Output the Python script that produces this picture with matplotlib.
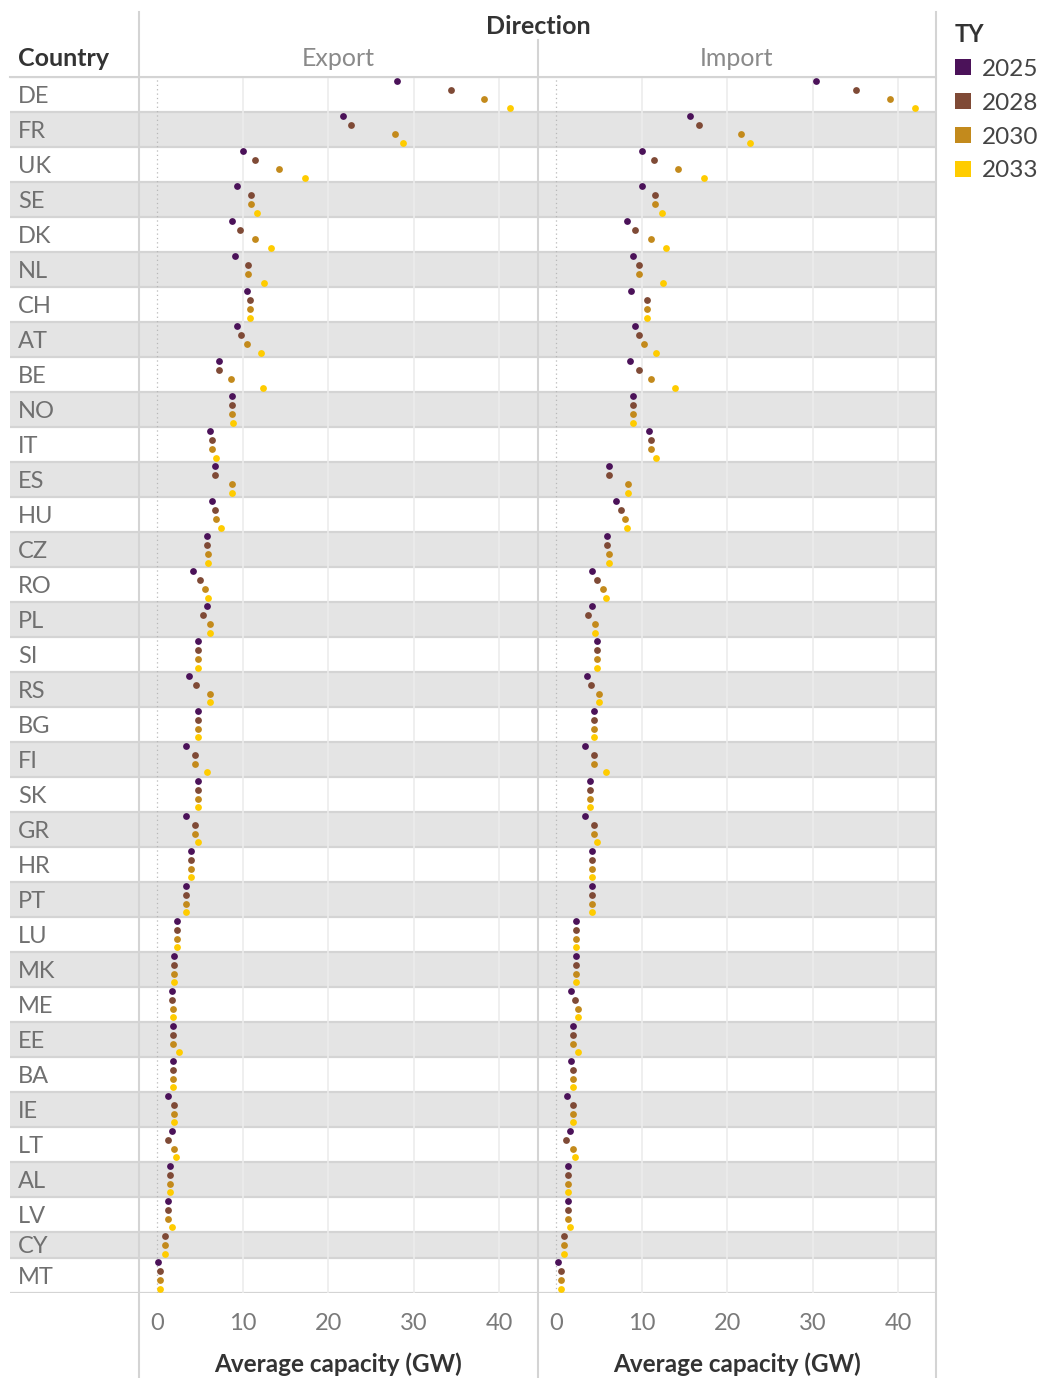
import numpy as np
import matplotlib
matplotlib.use("Agg")
import matplotlib.pyplot as plt
from matplotlib.patches import Patch
from matplotlib.lines import Line2D

plt.rcParams['font.family'] = ['Lato', 'DejaVu Sans']

nan = np.nan

# Daten
countries = ["DE", "FR", "UK", "SE", "DK", "NL", "CH", "AT", "BE", "NO", "IT", "ES",
             "HU", "CZ", "RO", "PL", "SI", "RS", "BG", "FI", "SK", "GR", "HR", "PT",
             "LU", "MK", "ME", "EE", "BA", "IE", "LT", "AL", "LV", "CY", "MT"]
years = ["2025", "2028", "2030", "2033"]
colors = ["#4b1259", "#7f4a36", "#c38a1c", "#ffcc00"]

export_2025 = [28.0, 21.7, 10.0, 9.35, 8.75, 9.1, 10.5, 9.35, 7.2, 8.75, 6.1, 6.7,
               6.4, 5.8, 4.2, 5.8, 4.7, 3.75, 4.7, 3.4, 4.8, 3.4, 3.9, 3.4,
               2.3, 2.0, 1.7, 1.85, 1.85, 1.2, 1.7, 1.5, 1.2, nan, 0.1]
export_2028 = [34.3, 22.6, 11.4, 11.0, 9.7, 10.6, 10.8, 9.8, 7.2, 8.75, 6.4, 6.7,
               6.7, 5.8, 5.0, 5.3, 4.8, 4.5, 4.7, 4.35, 4.8, 4.35, 3.9, 3.4,
               2.3, 2.0, 1.7, 1.85, 1.85, 2.0, 1.2, 1.5, 1.2, 0.9, 0.3]
export_2030 = [38.2, 27.8, 14.2, 11.0, 11.4, 10.6, 10.8, 10.5, 8.6, 8.75, 6.4, 8.75,
               6.9, 5.9, 5.6, 6.1, 4.8, 6.1, 4.7, 4.35, 4.8, 4.35, 3.9, 3.4,
               2.3, 2.0, 1.85, 1.85, 1.85, 2.0, 2.0, 1.5, 1.2, 0.9, 0.3]
export_2033 = [41.2, 28.7, 17.3, 11.7, 13.3, 12.5, 10.8, 12.1, 12.3, 8.9, 6.9, 8.75,
               7.4, 5.9, 5.9, 6.1, 4.8, 6.1, 4.7, 5.8, 4.8, 4.8, 3.9, 3.4,
               2.3, 2.0, 1.85, 2.5, 1.85, 2.0, 2.2, 1.5, 1.7, 0.9, 0.3]

import_2025 = [30.4, 15.6, 10.0, 10.0, 8.3, 9.0, 8.7, 9.2, 8.6, 9.0, 10.8, 6.2,
               7.0, 5.9, 4.2, 4.2, 4.8, 3.6, 4.4, 3.4, 3.9, 3.4, 4.2, 4.2,
               2.3, 2.3, 1.7, 1.9, 1.7, 1.25, 1.6, 1.4, 1.4, nan, 0.15]
import_2028 = [35.1, 16.7, 11.4, 11.5, 9.2, 9.7, 10.6, 9.7, 9.7, 9.0, 11.1, 6.2,
               7.5, 5.9, 4.7, 3.7, 4.8, 4.1, 4.4, 4.4, 3.9, 4.4, 4.2, 4.2,
               2.3, 2.3, 2.2, 1.9, 1.9, 2.0, 1.1, 1.4, 1.4, 0.9, 0.5]
import_2030 = [39.0, 21.6, 14.2, 11.5, 11.1, 9.7, 10.6, 10.3, 11.1, 9.0, 11.1, 8.4,
               8.0, 6.1, 5.5, 4.5, 4.8, 5.0, 4.4, 4.4, 3.9, 4.4, 4.2, 4.2,
               2.3, 2.3, 2.5, 1.9, 1.9, 2.0, 1.9, 1.4, 1.4, 0.9, 0.5]
import_2033 = [42.0, 22.6, 17.3, 12.3, 12.8, 12.5, 10.6, 11.7, 13.9, 9.0, 11.7, 8.4,
               8.3, 6.1, 5.8, 4.5, 4.8, 5.0, 4.4, 5.8, 3.9, 4.8, 4.2, 4.2,
               2.3, 2.3, 2.5, 2.5, 1.9, 2.0, 2.2, 1.4, 1.6, 0.9, 0.5]

export_vals = np.array([export_2025, export_2028, export_2030, export_2033])
import_vals = np.array([import_2025, import_2028, import_2030, import_2033])

W, H = 1043, 1378
fig = plt.figure(figsize=(W / 100, H / 100), dpi=100)


def rect(x0, y0, x1, y1):
    return [x0 / W, 1 - y1 / H, (x1 - x0) / W, (y1 - y0) / H]


# Unterzeilen: jedes vorhandene Jahr bekommt eine eigene Zeile innerhalb des Landes
present = ~(np.isnan(export_vals) & np.isnan(import_vals))
n_sub = present.sum(axis=0)
row_top = np.concatenate([[0], np.cumsum(n_sub)[:-1]])
total = n_sub.sum()

sub_pos = np.full(export_vals.shape, nan)
for j in range(len(countries)):
    k = 0
    for i in range(len(years)):
        if present[i, j]:
            sub_pos[i, j] = row_top[j] + k + 0.5
            k += 1

# Hintergrund mit Zeilenbändern
bg = fig.add_axes(rect(10, 77, 936, 1293))
bg.set_xlim(10, 936)
bg.set_ylim(total, 0)
bg.axis("off")
for j, c in enumerate(countries):
    top = row_top[j]
    if j % 2 == 1:
        bg.axhspan(top, top + n_sub[j], color="#e4e4e4", lw=0, zorder=0)
    bg.axhline(top, color="#d4d4d4", lw=1.6, zorder=1)
    bg.text(18, top + n_sub[j] / 2 + 0.2, c, ha="left", va="center", fontsize=17,
            color="#707070")
bg.axhline(total, color="#d4d4d4", lw=1.6, zorder=1)

panels = [("Export", export_vals, rect(139, 77, 537, 1293)),
          ("Import", import_vals, rect(538, 77, 936, 1293))]

for name, vals, r in panels:
    ax = fig.add_axes(r)
    ax.patch.set_alpha(0)
    ax.set_xlim(-2.15, 44.4)
    ax.set_ylim(total, 0)
    for s in ax.spines.values():
        s.set_visible(False)
    ax.set_yticks([])
    ax.set_xticks([0, 10, 20, 30, 40])
    ax.tick_params(axis="x", length=0, pad=14.5, labelsize=17, labelcolor="#7a7a7a")
    for t in [10, 20, 30, 40]:
        ax.axvline(t, color="#ececec", lw=1.2, zorder=1)
    ax.axvline(0, color="#b8b8b8", lw=0.9, ls=(0, (1, 2.5)), zorder=1)
    for i, y in enumerate(years):
        m = ~np.isnan(vals[i])
        ax.scatter(vals[i][m], sub_pos[i][m], s=24, color=colors[i], lw=0, zorder=3)
    ax.set_xlabel("Average capacity (GW)", fontsize=17.5, fontweight="bold",
                  color="#333333", labelpad=13)
    ax.text(0.5, 1 + 19 / 1216, name, transform=ax.transAxes, ha="center",
            va="center", fontsize=18, color="#8a8a8a")

# Kopfzeile und Trennlinien
fig.text(18 / W, 1 - 59 / H, "Country", fontsize=18, fontweight="bold",
         color="#333333", va="center", ha="left")
fig.text(538 / W, 1 - 27 / H, "Direction", fontsize=18, fontweight="bold",
         color="#333333", va="center", ha="center")
line_kw = dict(color="#d4d4d4", lw=1.5, transform=fig.transFigure)
fig.add_artist(Line2D([10 / W, 936 / W], [1 - 77 / H] * 2, **line_kw))
fig.add_artist(Line2D([139 / W] * 2, [1 - 12 / H, 0], **line_kw))
fig.add_artist(Line2D([537.5 / W] * 2, [1 - 40 / H, 0], **line_kw))
fig.add_artist(Line2D([936 / W] * 2, [1 - 12 / H, 0], **line_kw))

# Legende
handles = [Patch(facecolor=c, edgecolor="none", label=y) for y, c in zip(years, colors)]
leg = fig.legend(handles=handles, title="TY", loc="upper left",
                 bbox_to_anchor=(933 / W, 1 - 1 / H), frameon=False,
                 fontsize=17.5, handlelength=0.65, handleheight=0.65,
                 handletextpad=0.45, labelspacing=0.53, alignment="left",
                 title_fontproperties={"weight": "bold", "size": 17})
for t in leg.get_texts():
    t.set_color("#444444")
leg.get_title().set_color("#333333")

fig.savefig("out.png", dpi=100)
